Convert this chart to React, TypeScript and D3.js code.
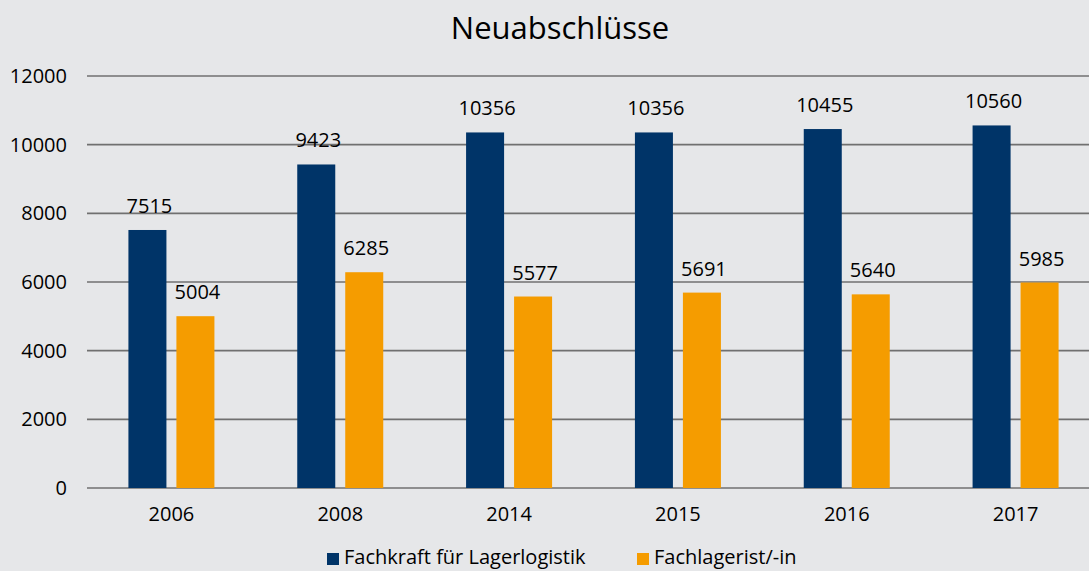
import * as d3 from "d3";
import { useEffect, useRef } from "react";

const years = ["2006", "2008", "2014", "2015", "2016", "2017"];
const seriesNames = ["Fachkraft für Lagerlogistik", "Fachlagerist/-in"];
const fachkraft = [7515, 9423, 10356, 10356, 10455, 10560];
const fachlagerist = [5004, 6285, 5577, 5691, 5640, 5985];
const yTicks = [0, 2000, 4000, 6000, 8000, 10000, 12000];

const colors = ["#003468", "#f59c00"];
const width = 1089;
const height = 571;
const font = "'Open Sans', 'Noto Sans', sans-serif";

export default function App() {
  const svgRef = useRef<SVGSVGElement>(null);

  useEffect(() => {
    document.body.style.margin = "0";
    const svg = d3.select(svgRef.current);
    svg.selectAll("*").remove();

    const x = d3.scaleBand().domain(years).range([87, 1100]).padding(0);
    const y = d3.scaleLinear().domain([0, 12000]).range([488, 76]);

    const pairW = 86;
    const inner = d3
      .scaleBand()
      .domain(seriesNames)
      .range([x.bandwidth() / 2 - pairW / 2, x.bandwidth() / 2 + pairW / 2])
      .paddingInner(0.208);

    svg.append("rect").attr("width", width).attr("height", height).attr("fill", "#e6e7e9");

    svg
      .append("text")
      .attr("x", 560)
      .attr("y", 39)
      .attr("text-anchor", "middle")
      .attr("font-family", font)
      .attr("font-size", 31)
      .attr("fill", "#000")
      .text("Neuabschlüsse");

    // grid + y labels
    const grid = svg.append("g");
    grid
      .selectAll("line")
      .data(yTicks)
      .join("line")
      .attr("x1", 87)
      .attr("x2", width)
      .attr("y1", (d) => y(d))
      .attr("y2", (d) => y(d))
      .attr("stroke", "#707070")
      .attr("stroke-width", 1.6);
    grid
      .selectAll("text")
      .data(yTicks)
      .join("text")
      .attr("x", 67)
      .attr("y", (d) => y(d) + 7)
      .attr("text-anchor", "end")
      .attr("font-family", font)
      .attr("font-size", 20)
      .attr("fill", "#000")
      .text((d) => String(d));

    const values = [fachkraft, fachlagerist];
    seriesNames.forEach((name, si) => {
      const g = svg.append("g");
      const data = years.map((yr, i) => ({ yr, v: values[si][i] }));
      g.selectAll("rect")
        .data(data)
        .join("rect")
        .attr("x", (d) => (x(d.yr) ?? 0) + (inner(name) ?? 0))
        .attr("y", (d) => y(d.v))
        .attr("width", inner.bandwidth())
        .attr("height", (d) => y(0) - y(d.v))
        .attr("fill", colors[si]);
      g.selectAll("text")
        .data(data)
        .join("text")
        .attr("x", (d) => (x(d.yr) ?? 0) + (inner(name) ?? 0) + inner.bandwidth() / 2 + 2)
        .attr("y", (d) => y(d.v) - 17)
        .attr("text-anchor", "middle")
        .attr("font-family", font)
        .attr("font-size", 20)
        .attr("fill", "#000")
        .text((d) => String(d.v));
    });

    // x labels
    svg
      .append("g")
      .selectAll("text")
      .data(years)
      .join("text")
      .attr("x", (d) => (x(d) ?? 0) + x.bandwidth() / 2)
      .attr("y", 521)
      .attr("text-anchor", "middle")
      .attr("font-family", font)
      .attr("font-size", 20)
      .attr("fill", "#000")
      .text((d) => d);

    // legend
    const legendX = [327, 637];
    const lg = svg.append("g");
    seriesNames.forEach((name, i) => {
      lg.append("rect")
        .attr("x", legendX[i])
        .attr("y", 553)
        .attr("width", 12)
        .attr("height", 12)
        .attr("fill", colors[i]);
      lg.append("text")
        .attr("x", legendX[i] + 17)
        .attr("y", 564)
        .attr("font-family", font)
        .attr("font-size", 20)
        .attr("fill", "#000")
        .text(name);
    });
  }, []);

  return (
    <svg
      ref={svgRef}
      width={width}
      height={height}
      style={{ display: "block", position: "absolute", left: 0, top: 0 }}
    />
  );
}
